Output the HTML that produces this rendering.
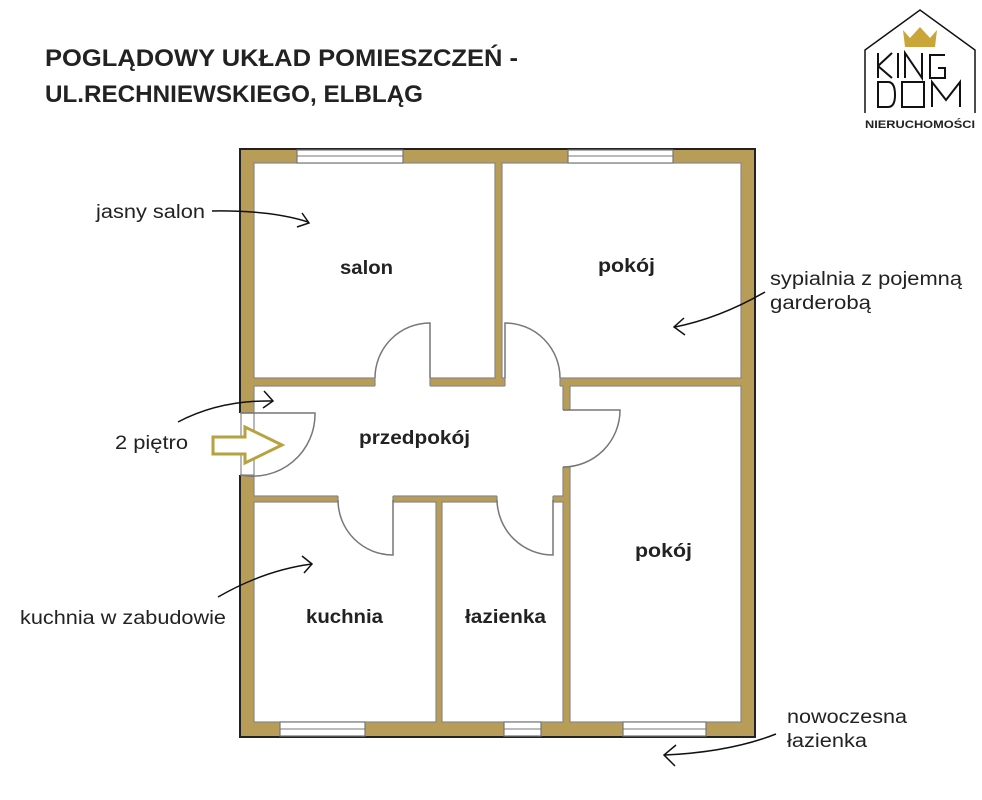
<!DOCTYPE html>
<html><head><meta charset="utf-8"><style>
html,body{margin:0;padding:0;background:#fff}
svg{display:block}
text{font-family:"Liberation Sans",sans-serif;fill:#222}
</style></head><body>
<svg width="982" height="800" viewBox="0 0 982 800" xmlns="http://www.w3.org/2000/svg">
<rect width="982" height="800" fill="#fff"/>
<!-- title -->
<text x="45" y="66" font-size="24" font-weight="bold" textLength="473" lengthAdjust="spacingAndGlyphs">POGLĄDOWY UKŁAD POMIESZCZEŃ -</text>
<text x="45" y="102" font-size="24" font-weight="bold" textLength="378" lengthAdjust="spacingAndGlyphs">UL.RECHNIEWSKIEGO, ELBLĄG</text>

<!-- logo -->
<g fill="none" stroke="#111" stroke-width="1.5">
<polyline points="865,113 865,50 920,10 975,50 975,113"/>
</g>
<g fill="#c9a53a">
<polygon points="903,30 910,38 920,27 930,38 937,30 935,47 905,47"/>
</g>
<g fill="none" stroke="#111" stroke-width="2">
<path d="M878,53 V78 M878,66 L892,53 M878,66 L892,78"/>
<path d="M898,53 V78"/>
<path d="M905,78 V53 L922,78 V53"/>
<path d="M945,55 H930 V78 H945 V68 H938"/>
<path d="M878,82 V107 H888 Q895,107 895,95 Q895,82 888,82 Z"/>
<rect x="902" y="82" width="22" height="25"/>
<path d="M932,107 V82 L946,100 L960,82 V107"/>
</g>
<text x="920" y="128" font-size="11" font-weight="bold" text-anchor="middle" textLength="110" lengthAdjust="spacingAndGlyphs">NIERUCHOMOŚCI</text>

<!-- plan base -->
<rect x="240" y="149" width="515" height="588" fill="#b89d58" stroke="#222" stroke-width="2"/>
<g fill="#fff" stroke="#888" stroke-width="1.2">
<rect x="254" y="163" width="241" height="215"/>
<rect x="502" y="163" width="239" height="215"/>
<rect x="254" y="386" width="309" height="110"/>
<rect x="254" y="502" width="182" height="220"/>
<rect x="442" y="502" width="121" height="220"/>
<rect x="570" y="386" width="171" height="336"/>
</g>
<!-- gaps -->
<g fill="#fff">
<rect x="375" y="377" width="55" height="10"/>
<rect x="505" y="377" width="55" height="10"/>
<rect x="562" y="410" width="9" height="57"/>
<rect x="338" y="495" width="55" height="8"/>
<rect x="497" y="495" width="56" height="8"/>
<rect x="239" y="413" width="16" height="62"/>
</g>
<g stroke="#888" stroke-width="1.2" fill="none">
<line x1="241" y1="413" x2="241" y2="475"/>
<line x1="254" y1="413" x2="254" y2="475"/>
<line x1="240" y1="413" x2="254" y2="413"/>
<line x1="240" y1="475" x2="254" y2="475"/>
<line x1="375" y1="378" x2="375" y2="386"/>
<line x1="430" y1="378" x2="430" y2="386"/>
<line x1="505" y1="378" x2="505" y2="386"/>
<line x1="560" y1="378" x2="560" y2="386"/>
<line x1="563" y1="410" x2="570" y2="410"/>
<line x1="563" y1="467" x2="570" y2="467"/>
<line x1="338" y1="496" x2="338" y2="502"/>
<line x1="393" y1="496" x2="393" y2="502"/>
<line x1="497" y1="496" x2="497" y2="502"/>
<line x1="553" y1="496" x2="553" y2="502"/>
</g>
<!-- doors -->
<g stroke="#777" stroke-width="1.5" fill="none">
<path d="M430,378 V323 A55,55 0 0 0 375,378"/>
<path d="M505,378 V323 A55,55 0 0 1 560,378"/>
<path d="M563,410 H620 A57,57 0 0 1 563,467"/>
<path d="M393,500 V555 A55,55 0 0 1 338,500"/>
<path d="M553,500 V555 A56,56 0 0 1 497,500"/>
<path d="M241,413 H315 A62,62 0 0 1 241,475"/>
</g>
<!-- windows -->
<g fill="#fff" stroke="#777" stroke-width="1.2">
<rect x="297" y="150" width="106" height="13"/>
<rect x="568" y="150" width="105" height="13"/>
<rect x="280" y="722" width="85" height="14"/>
<rect x="504" y="722" width="37" height="14"/>
<rect x="623" y="722" width="83" height="14"/>
</g>
<g stroke="#777" stroke-width="1">
<line x1="297" y1="156" x2="403" y2="156"/>
<line x1="568" y1="156" x2="673" y2="156"/>
<line x1="280" y1="729" x2="365" y2="729"/>
<line x1="504" y1="729" x2="541" y2="729"/>
<line x1="623" y1="729" x2="706" y2="729"/>
</g>

<!-- room labels -->
<g font-size="19" font-weight="bold">
<text x="340" y="274" textLength="53" lengthAdjust="spacingAndGlyphs">salon</text>
<text x="598" y="272" textLength="57" lengthAdjust="spacingAndGlyphs">pokój</text>
<text x="359" y="444" textLength="111" lengthAdjust="spacingAndGlyphs">przedpokój</text>
<text x="306" y="623" textLength="77" lengthAdjust="spacingAndGlyphs">kuchnia</text>
<text x="465" y="623" textLength="81" lengthAdjust="spacingAndGlyphs">łazienka</text>
<text x="635" y="557" textLength="57" lengthAdjust="spacingAndGlyphs">pokój</text>
</g>

<!-- annotations -->
<g font-size="19">
<text x="96" y="218" textLength="109" lengthAdjust="spacingAndGlyphs">jasny salon</text>
<text x="115" y="449" textLength="73" lengthAdjust="spacingAndGlyphs">2 piętro</text>
<text x="20" y="624" textLength="206" lengthAdjust="spacingAndGlyphs">kuchnia w zabudowie</text>
<text x="770" y="285" textLength="192" lengthAdjust="spacingAndGlyphs">sypialnia z pojemną</text>
<text x="770" y="309" textLength="101" lengthAdjust="spacingAndGlyphs">garderobą</text>
<text x="787" y="723" textLength="120" lengthAdjust="spacingAndGlyphs">nowoczesna</text>
<text x="787" y="747" textLength="80" lengthAdjust="spacingAndGlyphs">łazienka</text>
</g>
<g stroke="#111" stroke-width="1.5" fill="none">
<path d="M212,211 Q270,210 308,222"/><path d="M302,213 L309,223 L297,227"/>
<path d="M178,422 Q220,400 272,401"/><path d="M264,391 L273,401 L263,408"/>
<path d="M218,597 Q265,570 312,564"/><path d="M302,556 L312,564 L304,573"/>
<path d="M765,292 Q720,318 675,327"/><path d="M684,318 L674,327 L685,335"/>
<path d="M776,734 Q730,752 665,755"/><path d="M676,745 L664,755 L675,766"/>
</g>
<!-- entrance arrow -->
<polygon points="213,437 245,437 245,427 282,445 245,463 245,454 213,454" fill="#fff" stroke="#b6a23e" stroke-width="3"/>
</svg>
</body></html>
